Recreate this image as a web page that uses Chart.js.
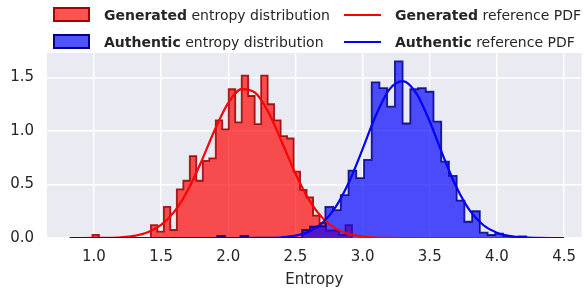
<!DOCTYPE html>
<html>
<head>
<meta charset="utf-8">
<script src="https://cdn.jsdelivr.net/npm/chart.js@4.4.1/dist/chart.umd.min.js"></script>
<style>
    body { margin: 0; background: #fff; font-family: 'DejaVu Sans', sans-serif; }
    #wrap { position: relative; width: 586px; height: 293px; }
    #chart { position: absolute; left: 0; top: 0; }
    .leg { position: absolute; font-size: 14px; color: #262626; white-space: nowrap; line-height: 16px; }
    .patch { position: absolute; width: 33px; height: 11px; border: 2px solid; }
    .swatch { position: absolute; width: 37px; height: 2px; }
</style>
</head>
<body>
<div id="wrap">
    <canvas id="chart" width="586" height="293"></canvas>
    <div class="patch" style="left:53px; top:7px; background:rgba(255,0,0,0.68); border-color:#a80000;"></div>
    <div class="leg" style="left:104px; top:7px;"><b>Generated</b> entropy distribution</div>
    <div class="patch" style="left:53px; top:34px; background:rgba(0,0,255,0.68); border-color:#00008b;"></div>
    <div class="leg" style="left:104px; top:34px;"><b>Authentic</b> entropy distribution</div>
    <div class="swatch" style="left:344px; top:14px; background:#ff0000;"></div>
    <div class="leg" style="left:395px; top:7px;"><b>Generated</b> reference PDF</div>
    <div class="swatch" style="left:344px; top:41px; background:#0000ff;"></div>
    <div class="leg" style="left:395px; top:34px;"><b>Authentic</b> reference PDF</div>
</div>
<script>
// Histogram bins (density)
const redStart = 0.9893;
const redBinWidth = 0.0483;
const redDensity = [
    0.03, 0, 0, 0, 0, 0, 0, 0, 0, 0.12,
    0.06, 0.29, 0.075, 0.455, 0.535, 0.766, 0.535, 0.72, 0.745, 1.10,
    1.016, 1.39, 1.08, 1.517, 1.327, 1.065, 1.517, 1.25, 1.10, 0.953,
    0.93, 0.62, 0.45, 0.38, 0.21, 0.14, 0.07, 0.07, 0.03, 0.12
];

const blueStart = 1.918;
const blueBinWidth = 0.0575;
const blueDensity = [
    0.02, 0, 0, 0.02, 0, 0, 0, 0, 0, 0,
    0, 0.075, 0.105, 0.11, 0.29, 0.26, 0.40, 0.63, 0.56, 0.73,
    1.455, 1.40, 1.227, 1.65, 1.07, 1.39, 1.40, 1.367, 1.087, 0.713,
    0.58, 0.35, 0.152, 0.25, 0.05, 0.028, 0.04, 0.02, 0.01, 0.015
];

// Reference PDF curves
const pdfX = [0.82, 0.9, 1.0, 1.1, 1.2, 1.3, 1.4, 1.5, 1.6, 1.7, 1.8, 1.9, 2.0, 2.1, 2.2, 2.3, 2.4, 2.5, 2.6,
    2.7, 2.8, 2.9, 3.0, 3.1, 3.2, 3.3, 3.4, 3.5, 3.6, 3.7, 3.8, 3.9, 4.0, 4.1, 4.2, 4.3, 4.4, 4.5];
const redPdf = [0, 0, 0.0005, 0.002, 0.007, 0.020, 0.053, 0.122, 0.249, 0.449, 0.716, 1.011, 1.262, 1.392,
    1.358, 1.172, 0.894, 0.603, 0.359, 0.189, 0.088, 0.036, 0.013, 0.004, 0.001,
    0, 0, 0, 0, 0, 0, 0, 0, 0, 0, 0, 0, 0];
const bluePdf = [0, 0, 0, 0, 0, 0, 0, 0, 0, 0, 0, 0, 0, 0,
    0.0005, 0.002, 0.007, 0.022, 0.059, 0.140, 0.290, 0.525, 0.831, 1.149, 1.389, 1.466,
    1.352, 1.089, 0.766, 0.471, 0.253, 0.119, 0.049, 0.017, 0.005, 0.0015, 0, 0];

const xTicks = [1.0, 1.5, 2.0, 2.5, 3.0, 3.5, 4.0, 4.5];
const yTicks = [0.0, 0.5, 1.0, 1.5];

/**
 * Turn bin heights into a step outline
 */
function stepPoints(start, width, heights) {
    const pts = [{ x: start, y: 0 }];
    heights.forEach((h, i) => {
        pts.push({ x: start + i * width, y: h });
    });
    pts.push({ x: start + heights.length * width, y: 0 });
    return pts;
}

function curvePoints(xs, ys) {
    return xs.map((x, i) => ({ x: x, y: ys[i] }));
}

const textColor = '#262626';

// Gray seaborn-like panel
const panelBackground = {
    id: 'panelBackground',
    beforeDraw(chart) {
        const { ctx, chartArea } = chart;
        ctx.save();
        ctx.fillStyle = '#eaeaf2';
        ctx.fillRect(chartArea.left, chartArea.top, chartArea.right - chartArea.left, chartArea.bottom - chartArea.top);
        ctx.restore();
    }
};

new Chart(document.getElementById('chart'), {
    type: 'line',
    data: {
        datasets: [
            {
                label: 'Generated entropy distribution',
                data: stepPoints(redStart, redBinWidth, redDensity),
                stepped: 'before',
                fill: 'origin',
                backgroundColor: 'rgba(255, 0, 0, 0.68)',
                borderColor: 'rgba(150, 0, 0, 0.85)',
                borderWidth: 1.8,
                pointRadius: 0,
                order: 4
            },
            {
                label: 'Authentic entropy distribution',
                data: stepPoints(blueStart, blueBinWidth, blueDensity),
                stepped: 'before',
                fill: 'origin',
                backgroundColor: 'rgba(0, 0, 255, 0.68)',
                borderColor: 'rgba(0, 0, 130, 0.85)',
                borderWidth: 1.8,
                pointRadius: 0,
                order: 3
            },
            {
                label: 'Generated reference PDF',
                data: curvePoints(pdfX, redPdf),
                borderColor: '#ff0000',
                borderWidth: 2.2,
                pointRadius: 0,
                fill: false,
                cubicInterpolationMode: 'monotone',
                order: 2
            },
            {
                label: 'Authentic reference PDF',
                data: curvePoints(pdfX, bluePdf),
                borderColor: '#0000ff',
                borderWidth: 2.2,
                pointRadius: 0,
                fill: false,
                cubicInterpolationMode: 'monotone',
                order: 1
            }
        ]
    },
    options: {
        responsive: false,
        animation: false,
        layout: { padding: { top: 53, right: 0, bottom: 0, left: 0 } },
        plugins: {
            legend: { display: false },
            tooltip: { enabled: false }
        },
        scales: {
            x: {
                type: 'linear',
                min: 0.6507,
                max: 4.631,
                afterBuildTicks: scale => { scale.ticks = xTicks.map(v => ({ value: v })); },
                afterFit: scale => { scale.height = 55; },
                grid: { color: '#ffffff', lineWidth: 1.4, drawTicks: false },
                border: { display: false },
                ticks: {
                    padding: 10,
                    color: textColor,
                    font: { family: 'DejaVu Sans', size: 15 },
                    callback: v => v.toFixed(1)
                },
                title: {
                    display: true,
                    text: 'Entropy',
                    color: textColor,
                    font: { family: 'DejaVu Sans', size: 15 },
                    padding: { top: 2, bottom: 4 }
                }
            },
            y: {
                min: 0,
                max: 1.729,
                afterBuildTicks: scale => { scale.ticks = yTicks.map(v => ({ value: v })); },
                afterFit: scale => { scale.width = 47; },
                grid: { color: '#ffffff', lineWidth: 1.4, drawTicks: false },
                border: { display: false },
                ticks: {
                    padding: 13,
                    color: textColor,
                    font: { family: 'DejaVu Sans', size: 15 },
                    callback: v => v.toFixed(1)
                }
            }
        }
    },
    plugins: [panelBackground]
});
</script>
</body>
</html>
